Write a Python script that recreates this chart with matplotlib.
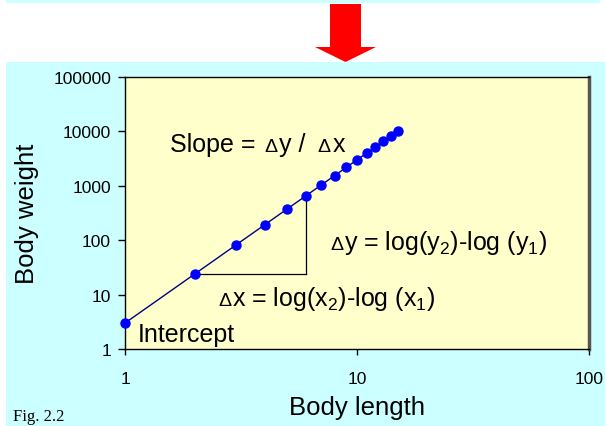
import numpy as np
import matplotlib.pyplot as plt
from matplotlib.patches import Rectangle, Polygon
from matplotlib.ticker import FixedLocator, NullLocator

plt.rcParams['font.family'] = ['Liberation Sans', 'DejaVu Sans']
plt.rcParams['mathtext.fontset'] = 'custom'
plt.rcParams['mathtext.rm'] = 'Liberation Sans'
plt.rcParams['mathtext.default'] = 'regular'

# body length vs body weight
length = [1, 2, 3, 4, 5, 6, 7, 8, 9, 10, 11, 12, 13, 14, 15]
weight = [3, 24, 81, 192, 375, 648, 1029, 1536, 2187, 3000, 3993, 5184, 6591, 8232, 10125]

x_ticks = [1, 10, 100]
y_ticks = [1, 10, 100, 1000, 10000, 100000]

# the two points that span the slope triangle
i1, i2 = 1, 5

W, H = 605, 427
fig = plt.figure(figsize=(W / 100, H / 100), dpi=100)
fig.patch.set_facecolor('white')

cyan = '#ccffff'
# top strip and main panel (kept behind the axes)
fig.patches.append(Rectangle((6 / W, 1 - 4 / H), 594 / W, 4 / H, zorder=-2,
                             transform=fig.transFigure, facecolor=cyan, edgecolor='none'))
fig.patches.append(Rectangle((6 / W, 0), (W - 6) / W, 1 - 63 / H, zorder=-2,
                             transform=fig.transFigure, facecolor=cyan, edgecolor='none'))

# red arrow pointing down
arrow_px = [(330, 5), (361, 5), (361, 48), (376, 48), (345.5, 63),
            (315, 48), (330, 48)]
fig.patches.append(Polygon([(x / W, 1 - y / H) for x, y in arrow_px], closed=True, zorder=-1,
                           transform=fig.transFigure, facecolor='#ff0000', edgecolor='none'))

ax = fig.add_axes([125 / W, 1 - 350 / H, (589 - 125) / W, (350 - 78) / H])
ax.set_facecolor('#ffffcc')

ax.plot(length, weight, color='#000080', lw=1, zorder=2)
ax.plot(length, weight, 'o', color='#0000ff', ms=6.5, zorder=3, clip_on=False)

# slope triangle
ax.plot([length[i1], length[i2]], [weight[i1], weight[i1]], color='black', lw=0.9, zorder=1)
ax.plot([length[i2], length[i2]], [weight[i1], weight[i2]], color='black', lw=0.9, zorder=1)

ax.set_xscale('log')
ax.set_yscale('log')
ax.set_xlim(1, 100)
ax.set_ylim(1, 100000)
ax.xaxis.set_major_locator(FixedLocator(x_ticks))
ax.yaxis.set_major_locator(FixedLocator(y_ticks))
ax.xaxis.set_minor_locator(NullLocator())
ax.yaxis.set_minor_locator(NullLocator())
ax.set_xticklabels([str(v) for v in x_ticks])
ax.set_yticklabels([str(v) for v in y_ticks])
ax.tick_params(axis='both', direction='out', width=1, labelsize=12.5)
ax.tick_params(axis='x', length=4, pad=12)
ax.tick_params(axis='y', length=5, pad=5)

for s in ['left', 'bottom', 'top']:
    ax.spines[s].set_color('black')
    ax.spines[s].set_linewidth(1)
ax.spines['right'].set_color('#555555')
ax.spines['right'].set_linewidth(2.5)

ax.set_xlabel('Body length', fontsize=18.5, labelpad=6)
ax.set_ylabel('Body weight', fontsize=18.5, labelpad=10)

renderer = fig.canvas.get_renderer()


def run_text(x, y, pieces):
    # place text pieces one after another, x/y in pixels from top-left (baseline)
    for s, size, gap in pieces:
        t = fig.text(x / W, 1 - y / H, s, fontsize=size, ha='left', va='baseline')
        x += t.get_window_extent(renderer).width + gap


big, small = 18, 14
run_text(138, 342, [('Intercept', big, 0)])
run_text(170, 152, [('Slope =', big, 9), ('\u0394', small, 1), ('y /', big, 12),
                    ('\u0394', small, 2), ('x', big, 0)])
run_text(330, 250, [('\u0394', small, 1), ('y = log(y$_2$)-log (y$_1$)', big, 0)])
run_text(218, 306, [('\u0394', small, 1), ('x = log(x$_2$)-log (x$_1$)', big, 0)])

fig.text(13 / W, 1 - 417 / H, 'Fig. 2.2', family='Liberation Serif', fontsize=12,
         ha='left', va='center')

fig.savefig('out.png', dpi=100, facecolor=fig.get_facecolor())
